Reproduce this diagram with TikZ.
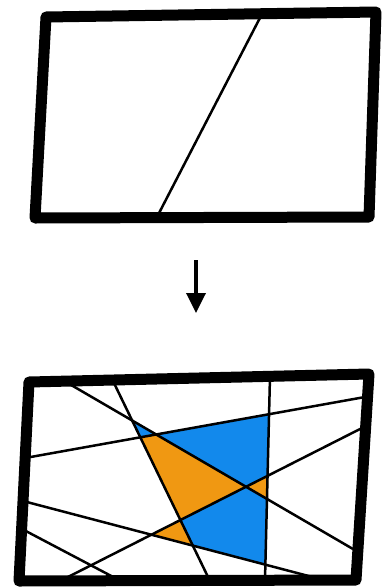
\documentclass[tikz,border=0pt]{standalone}
\usetikzlibrary{arrows.meta}

\definecolor{cellblue}{RGB}{18,137,236}
\definecolor{cellorange}{RGB}{240,152,18}

\begin{document}
\begin{tikzpicture}[
    x=1pt, y=-1pt,
    frame/.style={line width=11pt, line join=round, line cap=round},
    cut/.style={line width=2.5pt},
    blue cell/.style={fill=cellblue},
    orange cell/.style={fill=cellorange},
    arrow/.style={line width=3.5pt, -{Triangle[width=19pt,length=20pt]}}
]
\useasboundingbox (0,0) rectangle (381,587);

% Upper sheet
\coordinate (ta) at (263,12);
\coordinate (tb) at (157,217);
\draw[cut] (ta) -- (tb);
\draw[frame] (46,17) -- (376,12) -- (369,217) -- (35,218) -- cycle;

% Arrow
\coordinate (arrtop) at (196,260);
\coordinate (arrtip) at (196,313);
\draw[arrow] (arrtop) -- (arrtip);

% Lines of the lower sheet
\coordinate (a1) at (270,376); \coordinate (b1) at (265,580);
\coordinate (a2) at (365,397); \coordinate (b2) at (25,458);
\coordinate (a3) at (66,382);  \coordinate (b3) at (353,549);
\coordinate (a4) at (113,381); \coordinate (b4) at (209,579);
\coordinate (a5) at (364,427); \coordinate (b5) at (64,579);
\coordinate (a6) at (23,501);  \coordinate (b6) at (320,579);
\coordinate (a7) at (22,529);  \coordinate (b7) at (117,579);

% Crossings
\coordinate (p12) at (intersection of a1--b1 and a2--b2);
\coordinate (p13) at (intersection of a1--b1 and a3--b3);
\coordinate (p15) at (intersection of a1--b1 and a5--b5);
\coordinate (p16) at (intersection of a1--b1 and a6--b6);
\coordinate (p23) at (intersection of a2--b2 and a3--b3);
\coordinate (p24) at (intersection of a2--b2 and a4--b4);
\coordinate (p34) at (intersection of a3--b3 and a4--b4);
\coordinate (p35) at (intersection of a3--b3 and a5--b5);
\coordinate (p45) at (intersection of a4--b4 and a5--b5);
\coordinate (p46) at (intersection of a4--b4 and a6--b6);
\coordinate (p56) at (intersection of a5--b5 and a6--b6);

% Cells
\fill[blue cell] (p34) -- (p24) -- (p23) -- cycle;
\fill[blue cell] (p23) -- (p12) -- (p15) -- (p35) -- cycle;
\fill[blue cell] (p45) -- (p35) -- (p13) -- (p16) -- (p46) -- cycle;
\fill[orange cell] (p24) -- (p23) -- (p35) -- (p45) -- cycle;
\fill[orange cell] (p35) -- (p15) -- (p13) -- cycle;
\fill[orange cell] (p56) -- (p45) -- (p46) -- cycle;

\foreach \i in {1,...,7}
    \draw[cut] (a\i) -- (b\i);

% Lower sheet
\draw[frame] (29,382) -- (369,374) -- (356,580) -- (19,581) -- cycle;

\end{tikzpicture}
\end{document}
